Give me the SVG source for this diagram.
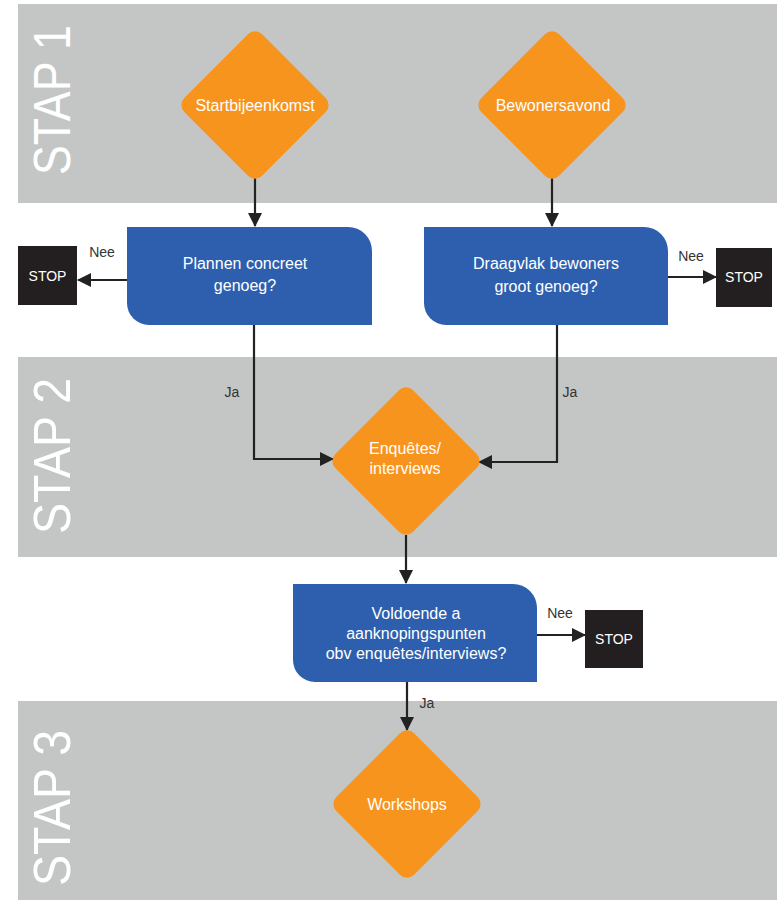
<svg xmlns="http://www.w3.org/2000/svg" width="781" height="900" viewBox="0 0 781 900">
<style>
.band{fill:#c4c6c6}
.stap{fill:#ffffff;font-family:"Liberation Sans",Arial,sans-serif;font-size:51px;text-anchor:middle}
.dia{fill:#f7941e}
.box{fill:#2e5fae}
.stop{fill:#231f20}
.wt{fill:#ffffff;font-family:"Liberation Sans",Arial,sans-serif;font-size:16px;text-anchor:middle}
.st{fill:#ffffff;font-family:"Liberation Sans",Arial,sans-serif;font-size:14px;text-anchor:middle}
.lbl{fill:#333333;font-family:"Liberation Sans",Arial,sans-serif;font-size:14px;text-anchor:middle}
.con{fill:none;stroke:#222222;stroke-width:2.2}
</style>
<defs>
<marker id="ah" markerUnits="userSpaceOnUse" markerWidth="14" markerHeight="14" viewBox="0 0 14 14" refX="13" refY="7" orient="auto">
<path d="M0,0 L14,7 L0,14 Z" fill="#222222"/>
</marker>
</defs>
<rect width="781" height="900" fill="#ffffff"/>
<g id="bands">
<rect class="band" x="18" y="4" width="759" height="199"/>
<rect class="band" x="18" y="357" width="759" height="200"/>
<rect class="band" x="18" y="701" width="759" height="199"/>
<text class="stap" transform="translate(70,100) rotate(-90)" textLength="150" lengthAdjust="spacingAndGlyphs">STAP 1</text>
<text class="stap" transform="translate(70,456) rotate(-90)" textLength="156" lengthAdjust="spacingAndGlyphs">STAP 2</text>
<text class="stap" transform="translate(70,808) rotate(-90)" textLength="156" lengthAdjust="spacingAndGlyphs">STAP 3</text>
</g>
<g id="connectors">
<path class="con" d="M255,178 V226" marker-end="url(#ah)"/>
<path class="con" d="M552,178 V226" marker-end="url(#ah)"/>
<path class="con" d="M127,280 H78" marker-end="url(#ah)"/>
<path class="con" d="M668,277 H716" marker-end="url(#ah)"/>
<path class="con" d="M254,325 V459 H333" marker-end="url(#ah)"/>
<path class="con" d="M557,325 V462 H479" marker-end="url(#ah)"/>
<path class="con" d="M406,535 V583" marker-end="url(#ah)"/>
<path class="con" d="M537,635 H585" marker-end="url(#ah)"/>
<path class="con" d="M407,682 V730" marker-end="url(#ah)"/>
<text class="lbl" x="102" y="257">Nee</text>
<text class="lbl" x="691" y="261">Nee</text>
<text class="lbl" x="560" y="618">Nee</text>
<text class="lbl" x="232" y="397">Ja</text>
<text class="lbl" x="570" y="397">Ja</text>
<text class="lbl" x="427" y="708">Ja</text>
</g>
<g id="startbijeenkomst">
<rect class="dia" x="-55" y="-55" width="110" height="110" rx="10" transform="translate(255,105) rotate(45)"/>
<text class="wt" x="255" y="111">Startbijeenkomst</text>
</g>
<g id="bewonersavond">
<rect class="dia" x="-55" y="-55" width="110" height="110" rx="10" transform="translate(552,105) rotate(45)"/>
<text class="wt" x="553" y="111">Bewonersavond</text>
</g>
<g id="plannen">
<path class="box" d="M127,227 H348 A24,24 0 0 1 372,251 V325 H149 A22,22 0 0 1 127,303 Z"/>
<text class="wt" x="245" y="269">Plannen concreet</text>
<text class="wt" x="245" y="291">genoeg?</text>
</g>
<g id="draagvlak">
<path class="box" d="M424,227 H644 A24,24 0 0 1 668,251 V325 H446 A22,22 0 0 1 424,303 Z"/>
<text class="wt" x="546" y="269">Draagvlak bewoners</text>
<text class="wt" x="546" y="292">groot genoeg?</text>
</g>
<g id="stop1">
<rect class="stop" x="18" y="246" width="59" height="59"/>
<text class="st" x="47.5" y="281">STOP</text>
</g>
<g id="stop2">
<rect class="stop" x="716" y="248" width="56" height="59"/>
<text class="st" x="744" y="282">STOP</text>
</g>
<g id="enquetes">
<rect class="dia" x="-55" y="-55" width="110" height="110" rx="10" transform="translate(406,461) rotate(45)"/>
<text class="wt" x="405" y="454">Enquêtes/</text>
<text class="wt" x="405" y="474">interviews</text>
</g>
<g id="voldoende">
<path class="box" d="M293,584 H513 A24,24 0 0 1 537,608 V682 H315 A22,22 0 0 1 293,660 Z"/>
<text class="wt" x="416" y="619" font-size="17">Voldoende a</text>
<text class="wt" x="416" y="639" font-size="17">aanknopingspunten</text>
<text class="wt" x="416" y="659" font-size="17">obv enquêtes/interviews?</text>
</g>
<g id="stop3">
<rect class="stop" x="585" y="610" width="58" height="58"/>
<text class="st" x="614" y="644">STOP</text>
</g>
<g id="workshops">
<rect class="dia" x="-55" y="-55" width="110" height="110" rx="10" transform="translate(407,804) rotate(45)"/>
<text class="wt" x="407" y="810">Workshops</text>
</g>
</svg>
